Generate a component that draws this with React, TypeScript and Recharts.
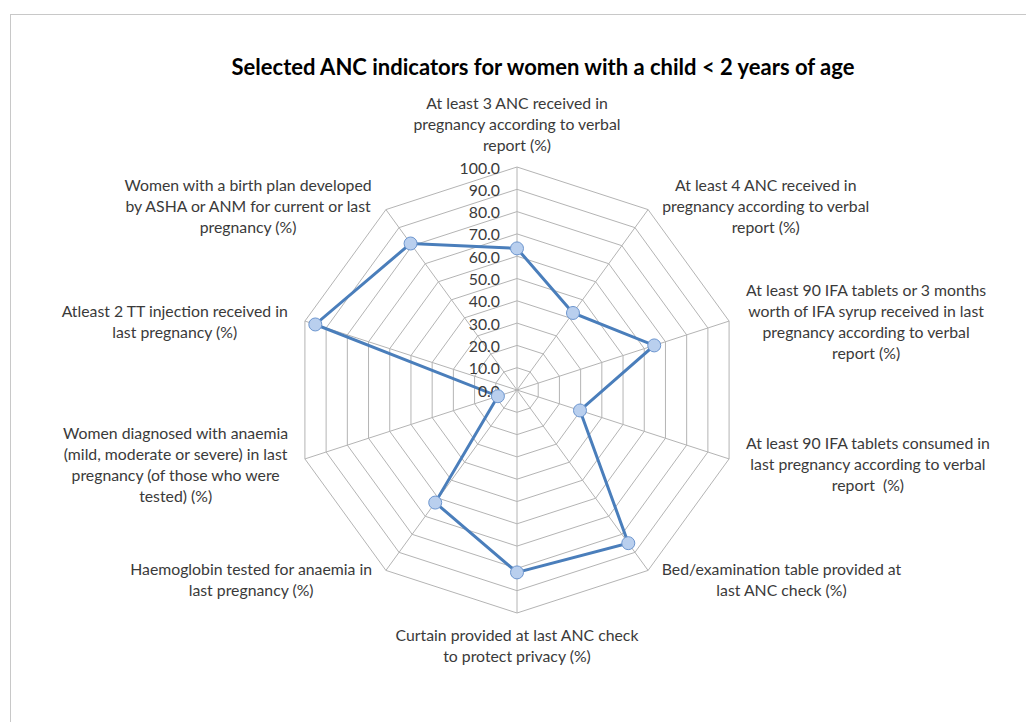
import React from 'react';
import { RadarChart, Radar, PolarGrid, PolarAngleAxis, PolarRadiusAxis } from 'recharts';

const TITLE = 'Selected ANC indicators for women with a child < 2 years of age';

const categoryLines: string[][] = [
  ['At least 3 ANC received in', 'pregnancy according to verbal', 'report (%)'],
  ['At least 4 ANC received in', 'pregnancy according to verbal', 'report (%)'],
  ['At least 90 IFA tablets or 3 months', 'worth of IFA syrup received in last', 'pregnancy according to verbal', 'report (%)'],
  ['At least 90 IFA tablets consumed in', 'last pregnancy according to verbal', 'report  (%)'],
  ['Bed/examination table provided at', 'last ANC check (%)'],
  ['Curtain provided at last ANC check', 'to protect privacy (%)'],
  ['Haemoglobin tested for anaemia in', 'last pregnancy (%)'],
  ['Women diagnosed with anaemia', '(mild, moderate or severe) in last', 'pregnancy (of those who were', 'tested) (%)'],
  ['Atleast 2 TT injection received in', 'last pregnancy (%)'],
  ['Women with a birth plan developed', 'by ASHA or ANM for current or last', 'pregnancy (%)'],
];

const values: number[] = [63.5, 42.7, 64.7, 29.7, 84.9, 81.8, 62.4, 9.0, 95.1, 81.2];

const radiusTicks: number[] = [0, 10, 20, 30, 40, 50, 60, 70, 80, 90, 100];

const data = categoryLines.map((lines, i) => ({
  name: lines.join(' '),
  idx: i,
  value: values[i],
}));

const FONT = 'Lato, "Open Sans", sans-serif';
const LABEL_SIZE = 15.8;
const LINE_H = 21;
const TEXT_COLOR = '#3a3a3a';

let canvasCtx: CanvasRenderingContext2D | null = null;
function measure(text: string): number {
  if (typeof document === 'undefined') return text.length * 7.5;
  if (!canvasCtx) {
    const c = document.createElement('canvas');
    canvasCtx = c.getContext('2d');
  }
  if (!canvasCtx) return text.length * 7.5;
  canvasCtx.font = `${LABEL_SIZE}px Lato`;
  return canvasCtx.measureText(text).width;
}

const AngleTick = (props: any) => {
  const { x, y, cx, cy, payload, index } = props;
  const i = typeof payload?.index === 'number' ? payload.index : index;
  const lines = categoryLines[i] || [String(payload?.value)];
  const dx = x - cx;
  const dy = y - cy;
  const r = Math.sqrt(dx * dx + dy * dy) || 1;
  const ux = dx / r;
  const uy = dy / r;
  const n = lines.length;
  let centerX = x;
  let firstBaseline = 0;
  if (Math.abs(ux) < 0.1) {
    if (uy < 0) {
      firstBaseline = y - 8 - (n - 1) * LINE_H;
    } else {
      firstBaseline = y + 20;
    }
  } else {
    const maxW = Math.max(...lines.map(measure));
    centerX = x + Math.sign(ux) * (maxW / 2 + 9);
    const centerY = y + 4;
    firstBaseline = centerY - ((n - 1) * LINE_H) / 2 + 5;
  }
  return (
    <text
      x={centerX}
      y={firstBaseline}
      textAnchor="middle"
      fill={TEXT_COLOR}
      fontFamily={FONT}
      fontSize={LABEL_SIZE}
    >
      {lines.map((l, k) => (
        <tspan key={k} x={centerX} y={firstBaseline + k * LINE_H} style={{ whiteSpace: 'pre' }}>
          {l}
        </tspan>
      ))}
    </text>
  );
};

const RadiusTick = (props: any) => {
  const { x, y, payload } = props;
  return (
    <text
      x={x - 17}
      y={y}
      textAnchor="end"
      dominantBaseline="central"
      fill={TEXT_COLOR}
      fontFamily={FONT}
      fontSize={LABEL_SIZE}
    >
      {Number(payload.value).toFixed(1)}
    </text>
  );
};

const Dot = (props: any) => {
  const { cx, cy } = props;
  return <circle cx={cx} cy={cy} r={6.5} fill="#b9cfee" stroke="#6d96cf" strokeWidth={1} />;
};

export default function App() {
  return (
    <div style={{ position: 'absolute', left: 0, top: 0, width: 1026, height: 722, background: '#fff', overflow: 'hidden' }}>
      <div
        style={{
          position: 'absolute',
          left: 10,
          top: 14,
          width: 1100,
          height: 800,
          borderTop: '1px solid #c8c8c8',
          borderLeft: '1px solid #c8c8c8',
        }}
      />
      <div
        style={{
          position: 'absolute',
          left: 0,
          top: 53,
          width: 1086,
          textAlign: 'center',
          fontFamily: FONT,
          fontWeight: 700,
          fontSize: 22,
          color: '#000',
          whiteSpace: 'nowrap',
        }}
      >
        {TITLE}
      </div>
      <div style={{ position: 'absolute', left: 0, top: 0 }}>
        <RadarChart
          width={1026}
          height={722}
          data={data}
          cx={517}
          cy={390}
          outerRadius={223}
          startAngle={90}
          endAngle={-270}
          margin={{ top: 0, right: 0, bottom: 0, left: 0 }}
        >
          <PolarGrid gridType="polygon" stroke="#b4b4b4" strokeWidth={1} />
          <PolarAngleAxis dataKey="name" tick={<AngleTick />} tickLine={false} axisLine={false} />
          <PolarRadiusAxis
            angle={90}
            domain={[0, 100]}
            ticks={radiusTicks as any}
            tickCount={11}
            axisLine={false}
            tickLine={false}
            tick={<RadiusTick />}
          />
          <Radar
            dataKey="value"
            stroke="#4a7ebb"
            strokeWidth={3}
            fill="none"
            fillOpacity={0}
            dot={<Dot />}
            isAnimationActive={false}
          />
        </RadarChart>
      </div>
    </div>
  );
}
